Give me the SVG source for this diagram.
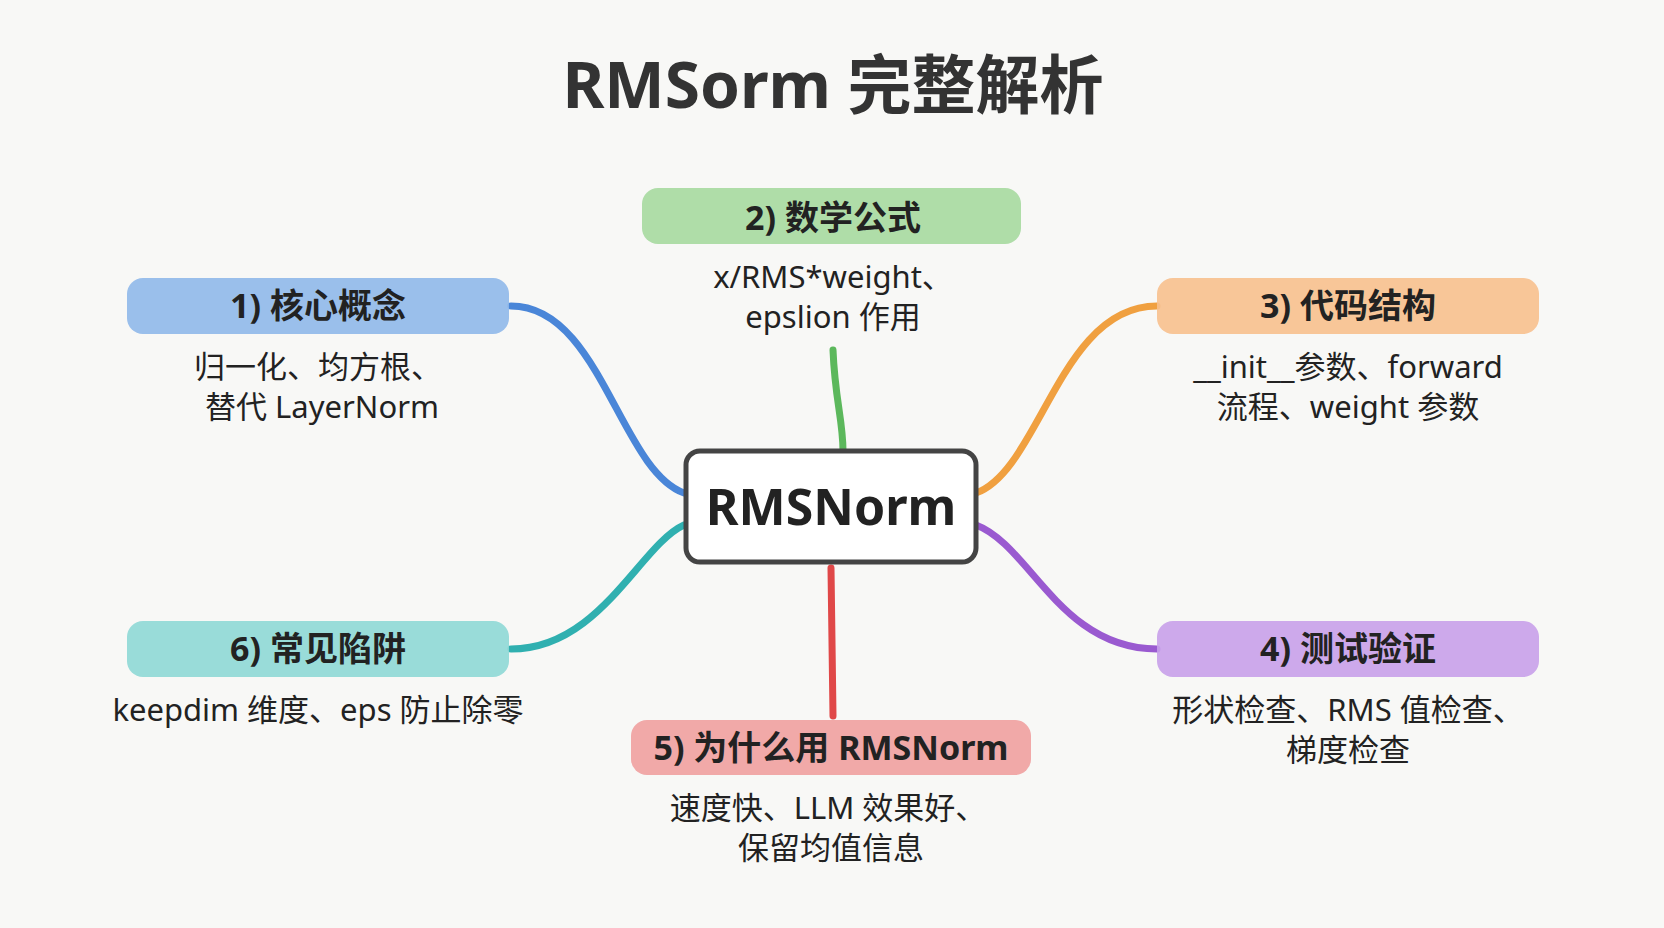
<svg xmlns="http://www.w3.org/2000/svg" width="1664" height="928" viewBox="0 0 1664 928">
<style>
text{font-family:"Noto Sans","Noto Sans CJK SC",sans-serif;text-anchor:middle;fill:#222}
.t{font-size:64px;font-weight:bold;fill:#333}
.l{font-size:34px;font-weight:bold}
.s{font-size:31px}
.c{fill:none;stroke-width:7;stroke-linecap:round}
.b{opacity:0.9}
</style>
<rect width="1664" height="928" fill="#f8f8f6"/>
<text class="t" x="833" y="108">RMSorm 完整解析</text>
<g id="connectors">
<path class="c" stroke="#4a86d8" d="M511,306 C600,306 620,470 684,493"/>
<path class="c" stroke="#5cb85c" d="M833,350 C835,400 843,420 843,451"/>
<path class="c" stroke="#f0a040" d="M1157,306 C1060,306 1040,470 976,493"/>
<path class="c" stroke="#30b0b0" d="M511,649 C600,649 640,545 684,525"/>
<path class="c" stroke="#9a5ad0" d="M976,525 C1030,545 1060,649 1157,649"/>
<path class="c" stroke="#e04848" d="M831,568 L833,716"/>
</g>
<g id="center">
<rect x="686" y="451" width="290" height="111" rx="14" fill="#fff" stroke="#444" stroke-width="5"/>
<text x="831" y="525" style="font-size:50px;font-weight:bold">RMSNorm</text>
</g>
<g id="n1">
<rect class="b" x="127" y="278" width="382" height="56" rx="16" fill="#8fb8ea"/>
<text class="l" x="318" y="318">1) 核心概念</text>
<text class="s" x="318" y="378">归一化、均方根、</text>
<text class="s" x="322" y="418">替代 LayerNorm</text>
</g>
<g id="n2">
<rect class="b" x="642" y="188" width="379" height="56" rx="16" fill="#a6d9a0"/>
<text class="l" x="833" y="230">2) 数学公式</text>
<text class="s" x="833" y="288">x/RMS*weight、</text>
<text class="s" x="833" y="328">epslion 作用</text>
</g>
<g id="n3">
<rect class="b" x="1157" y="278" width="382" height="56" rx="16" fill="#f7c08e"/>
<text class="l" x="1348" y="318">3) 代码结构</text>
<text class="s" x="1348" y="378">__init__参数、forward</text>
<text class="s" x="1348" y="418">流程、weight 参数</text>
</g>
<g id="n4">
<rect class="b" x="1157" y="621" width="382" height="56" rx="16" fill="#c8a0ea"/>
<text class="l" x="1348" y="661">4) 测试验证</text>
<text class="s" x="1348" y="721">形状检查、RMS 值检查、</text>
<text class="s" x="1348" y="761">梯度检查</text>
</g>
<g id="n5">
<rect class="b" x="631" y="720" width="400" height="55" rx="16" fill="#f0a0a0"/>
<text class="l" x="831" y="760">5) 为什么用 RMSNorm</text>
<text class="s" x="828" y="819">速度快、LLM 效果好、</text>
<text class="s" x="831" y="859">保留均值信息</text>
</g>
<g id="n6">
<rect class="b" x="127" y="621" width="382" height="56" rx="16" fill="#8ed8d6"/>
<text class="l" x="318" y="661">6) 常见陷阱</text>
<text class="s" x="318" y="721">keepdim 维度、eps 防止除零</text>
</g>
</svg>
